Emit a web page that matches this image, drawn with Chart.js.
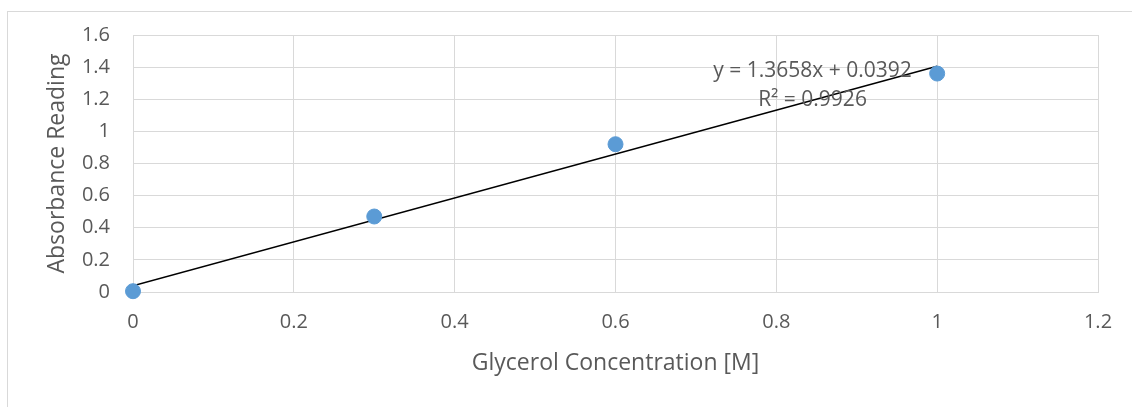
<!DOCTYPE html>
<html>
<head>
<meta charset="utf-8">
<script src="https://cdn.jsdelivr.net/npm/chart.js@4/dist/chart.umd.min.js"></script>
<style>
html,body{margin:0;padding:0;background:#fff;}
#wrap{width:1132px;height:407px;position:relative;}
</style>
</head>
<body>
<div id="wrap"><canvas id="c" width="1132" height="407"></canvas></div>
<script>
const concentrations = [0, 0.3, 0.6, 1];
const absorbance = [0.005, 0.47, 0.92, 1.36];
const trendSlope = 1.3658;
const trendIntercept = 0.0392;
const trendX = [0, 1];
const xTicks = [0, 0.2, 0.4, 0.6, 0.8, 1, 1.2];
const yTicks = [0, 0.2, 0.4, 0.6, 0.8, 1, 1.2, 1.4, 1.6];
const equationLines = ['y = 1.3658x + 0.0392', 'R\u00B2 = 0.9926'];
const xTitle = 'Glycerol Concentration [M]';
const yTitle = 'Absorbance Reading';

const FONT = '"Open Sans", sans-serif';
const TXT = '#595959';
const GRID = '#d9d9d9';

const frame = {
  id: 'frame',
  beforeDraw(chart) {
    const ctx = chart.ctx;
    ctx.save();
    ctx.strokeStyle = '#d9d9d9';
    ctx.lineWidth = 1;
    ctx.strokeRect(7.5, 11.5, 1200, 500);
    ctx.restore();
  },
  afterDatasetsDraw(chart) {
    const ctx = chart.ctx;
    const xs = chart.scales.x, ys = chart.scales.y;
    const cx = xs.getPixelForValue(0.845);
    const cy = ys.getPixelForValue(1.375);
    ctx.save();
    ctx.fillStyle = TXT;
    ctx.font = '21px ' + FONT;
    ctx.textAlign = 'center';
    ctx.textBaseline = 'middle';
    ctx.fillText(equationLines[0], cx, cy);
    ctx.fillText(equationLines[1], cx, cy + 29);
    ctx.restore();
  }
};

new Chart(document.getElementById('c'), {
  type: 'scatter',
  data: {
    datasets: [
      {
        label: 'Absorbance',
        data: concentrations.map((x, i) => ({x: x, y: absorbance[i]})),
        backgroundColor: '#5b9bd5',
        borderColor: '#5b9bd5',
        pointRadius: 7.5,
        pointHoverRadius: 7.5,
        clip: false,
        order: 1
      },
      {
        label: 'Linear',
        type: 'line',
        data: trendX.map(x => ({x: x, y: trendSlope * x + trendIntercept})),
        borderColor: '#000000',
        borderWidth: 1.5,
        pointRadius: 0,
        fill: false,
        order: 2
      }
    ]
  },
  options: {
    responsive: false,
    animation: false,
    events: [],
    layout: { padding: { left: 44, right: 34, top: 31, bottom: 30 } },
    plugins: { legend: { display: false }, tooltip: { enabled: false } },
    scales: {
      x: {
        type: 'linear',
        min: 0, max: 1.2,
        afterBuildTicks(s) { s.ticks = xTicks.map(v => ({value: v})); },
        afterFit(s) { s.height = 85; },
        grid: { color: GRID, lineWidth: 1, drawTicks: false },
        border: { color: GRID, width: 1 },
        ticks: { color: TXT, font: { family: FONT, size: 20 }, padding: 18, maxRotation: 0,
                 callback: v => String(v) },
        title: { display: true, text: xTitle, color: TXT, font: { family: FONT, size: 23 }, padding: { top: 10, bottom: 0 } }
      },
      y: {
        type: 'linear',
        min: 0, max: 1.6,
        afterBuildTicks(s) { s.ticks = yTicks.map(v => ({value: v})); },
        afterFit(s) { s.width = 89; },
        grid: { color: GRID, lineWidth: 1, drawTicks: false },
        border: { color: GRID, width: 1 },
        ticks: { color: TXT, font: { family: FONT, size: 20 }, padding: 23,
                 callback: v => String(v) },
        title: { display: true, text: yTitle, color: TXT, font: { family: FONT, size: 23 }, padding: { top: 0, bottom: 0 } }
      }
    }
  },
  plugins: [frame]
});
</script>
</body>
</html>
